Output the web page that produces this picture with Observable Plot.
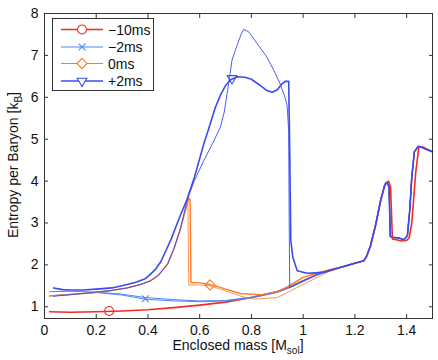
<!DOCTYPE html>
<html><head><meta charset="utf-8">
<script src="https://cdn.jsdelivr.net/npm/d3@7"></script>
<script src="https://cdn.jsdelivr.net/npm/@observablehq/plot@0.6"></script>
<style>
body{margin:0;background:#fff;}
#chart{position:relative;width:438px;height:360px;}
</style>
</head><body><div id="chart"></div>
<script>
// ---- data ----
const seriesNames = ["\u221210ms", "\u22122ms", "0ms", "+2ms"];
const seriesColors = ["#f52a22", "#4f86f5", "#fa7a2c", "#3a4cf0"];
const xTicks = [0, 0.2, 0.4, 0.6, 0.8, 1, 1.2, 1.4];
const yTicks = [1, 2, 3, 4, 5, 6, 7, 8];

// -10ms
const redMass = [0.02,0.1,0.2,0.3,0.4,0.5,0.6,0.7,0.8,0.9,0.95,1.0,1.05,1.1,1.15,1.2,1.235,1.245,1.26,1.28,1.3,1.318,1.33,1.338,1.345,1.36,1.38,1.4,1.41,1.42,1.435,1.447,1.46,1.48,1.5];
const redS    = [0.88,0.87,0.88,0.9,0.93,0.98,1.04,1.11,1.22,1.36,1.48,1.62,1.76,1.87,1.95,2.04,2.1,2.2,2.45,2.95,3.55,3.95,4.0,3.85,2.62,2.6,2.57,2.58,2.65,3.0,4.2,4.8,4.82,4.76,4.7];
// -2ms (two models)
const ltAMass = [0.02,0.1,0.2,0.3,0.39,0.5,0.6,0.7,0.8,0.9,0.95,1.0,1.05,1.1,1.15,1.2,1.235,1.245,1.26,1.28,1.3,1.315,1.325,1.332,1.337,1.345,1.37,1.39,1.403,1.412,1.42,1.43,1.445,1.46,1.48,1.5];
const ltAS    = [1.36,1.37,1.35,1.3,1.22,1.17,1.14,1.15,1.23,1.37,1.49,1.62,1.76,1.87,1.95,2.04,2.1,2.2,2.45,2.95,3.55,3.9,3.97,3.85,2.68,2.66,2.64,2.6,2.7,3.3,4.1,4.7,4.83,4.8,4.75,4.7];
const ltBMass = [0.02,0.1,0.2,0.3,0.39,0.5,0.6,0.7,0.8,0.9,0.95,1.0,1.05,1.1,1.15,1.2,1.235,1.245,1.26,1.28,1.3,1.315,1.325,1.332,1.337,1.345,1.37,1.39,1.403,1.412,1.42,1.43,1.445,1.46,1.48,1.5];
const ltBS    = [1.26,1.3,1.34,1.28,1.18,1.14,1.12,1.14,1.21,1.34,1.46,1.6,1.75,1.86,1.95,2.04,2.1,2.2,2.45,2.95,3.55,3.9,3.97,3.85,2.68,2.66,2.64,2.6,2.7,3.3,4.1,4.7,4.83,4.8,4.75,4.7];
// 0ms (two models)
const orAMass = [0.02,0.1,0.19,0.26,0.32,0.37,0.41,0.44,0.476,0.5,0.525,0.545,0.558,0.563,0.566,0.6,0.64,0.67,0.7,0.76,0.84,0.9,0.94,1.0,1.05,1.1,1.15,1.2,1.235,1.245,1.26,1.28,1.3,1.315,1.325,1.332,1.337,1.345,1.37,1.39,1.403,1.412,1.42,1.43,1.445,1.46,1.48,1.5];
const orAS    = [1.26,1.29,1.34,1.39,1.45,1.53,1.62,1.75,2.02,2.38,2.85,3.3,3.6,3.55,1.58,1.57,1.53,1.48,1.42,1.31,1.29,1.36,1.48,1.7,1.8,1.88,1.95,2.04,2.1,2.2,2.45,2.95,3.55,3.9,3.97,3.85,2.68,2.66,2.64,2.6,2.7,3.3,4.1,4.7,4.83,4.8,4.75,4.7];
const orBMass = [0.02,0.1,0.19,0.26,0.32,0.37,0.41,0.44,0.476,0.5,0.525,0.545,0.554,0.558,0.6,0.64,0.7,0.76,0.81,0.9,0.977,1.054,1.1,1.15,1.2,1.235,1.245,1.26,1.28,1.3,1.315,1.325,1.332,1.337,1.345,1.37,1.39,1.403,1.412,1.42,1.43,1.445,1.46,1.48,1.5];
const orBS    = [1.26,1.29,1.34,1.39,1.45,1.53,1.62,1.75,2.02,2.38,2.85,3.3,3.55,1.52,1.52,1.5,1.38,1.25,1.18,1.22,1.46,1.7,1.84,1.95,2.04,2.1,2.2,2.45,2.95,3.55,3.9,3.97,3.85,2.68,2.66,2.64,2.6,2.7,3.3,4.1,4.7,4.83,4.8,4.75,4.7];
// +2ms (two models)
const blAMass = [0.035,0.07,0.1,0.15,0.2,0.26,0.3,0.35,0.39,0.41,0.43,0.45,0.47,0.49,0.52,0.55,0.58,0.616,0.64,0.66,0.68,0.7,0.72,0.745,0.775,0.8,0.83,0.86,0.88,0.9,0.915,0.93,0.944,0.948,0.952,0.96,0.977,1.015,1.08,1.15,1.2,1.235,1.245,1.26,1.28,1.3,1.315,1.325,1.332,1.337,1.345,1.37,1.39,1.403,1.412,1.42,1.43,1.445,1.46,1.48,1.5];
const blAS    = [1.45,1.41,1.4,1.4,1.42,1.45,1.5,1.58,1.67,1.78,1.9,2.08,2.35,2.62,3.1,3.55,4.1,4.89,5.35,5.75,6.05,6.28,6.42,6.49,6.48,6.43,6.3,6.16,6.12,6.18,6.3,6.38,6.38,4.7,2.6,2.18,1.86,1.8,1.82,1.95,2.04,2.1,2.2,2.45,2.95,3.55,3.9,3.97,3.85,2.68,2.66,2.64,2.6,2.7,3.3,4.1,4.7,4.83,4.8,4.75,4.7];
const blBMass = [0.035,0.1,0.19,0.26,0.32,0.37,0.41,0.44,0.476,0.5,0.525,0.551,0.58,0.616,0.65,0.68,0.695,0.706,0.716,0.725,0.745,0.76,0.77,0.79,0.82,0.86,0.89,0.91,0.93,0.938,0.944,0.946,0.948,1.0,1.05,1.1,1.15,1.2,1.235,1.245,1.26,1.28,1.3,1.315,1.325,1.332,1.337,1.345,1.37,1.39,1.403,1.412,1.42,1.43,1.445,1.46,1.48,1.5];
const blBS    = [1.25,1.29,1.34,1.39,1.45,1.53,1.62,1.75,2.02,2.38,2.85,3.54,4.02,4.49,4.9,5.29,5.65,6.09,6.5,6.89,7.25,7.5,7.62,7.56,7.3,6.96,6.6,6.33,6.0,5.8,5.2,3.0,1.46,1.62,1.76,1.87,1.95,2.04,2.1,2.2,2.45,2.95,3.55,3.9,3.97,3.85,2.68,2.66,2.64,2.6,2.7,3.3,4.1,4.7,4.83,4.8,4.75,4.7];

// markers, one per series
const markerMass = [0.25, 0.39, 0.64, 0.725];
const markerS = [0.9, 1.19, 1.52, 6.45];
const markerSymbols = ["circle", "times", "diamond2", "triangle2"];
const markerRotate = [0, 0, 0, 180];
const markerR = [4.5, 3.2, 4.6, 4.6];

// ---- build ----
const lineDefs = [
  {series: 0, mass: redMass, s: redS, w: 1.6},
  {series: 1, mass: ltAMass, s: ltAS, w: 1.0},
  {series: 1, mass: ltBMass, s: ltBS, w: 1.0},
  {series: 2, mass: orAMass, s: orAS, w: 1.4},
  {series: 2, mass: orBMass, s: orBS, w: 0.8},
  {series: 3, mass: blAMass, s: blAS, w: 1.6},
  {series: 3, mass: blBMass, s: blBS, w: 0.9},
];
const lineMarks = lineDefs.map(L => Plot.line(
  L.mass.map((m, j) => ({mass: m, s: L.s[j]})),
  {x: "mass", y: "s", stroke: seriesColors[L.series], strokeWidth: L.w, strokeLinejoin: "round"}
));
const markerRows = markerMass.map((m, i) => ({mass: m, s: markerS[i], i}));
const markerMarks = markerRows.map(d => Plot.dot([d], {
  x: "mass", y: "s", symbol: () => markerSymbols[d.i], r: markerR[d.i],
  rotate: markerRotate[d.i], stroke: seriesColors[d.i], fill: "none", strokeWidth: 1.1
}));

const fmt = d => String(+d.toFixed(1));
const plot = Plot.plot({
  width: 438, height: 360,
  marginLeft: 44, marginRight: 6, marginTop: 13, marginBottom: 42,
  style: {fontFamily: "'Liberation Sans', Arial, sans-serif", fontSize: "14px", color: "#222", background: "white"},
  x: {domain: [0, 1.5]},
  y: {domain: [0.72, 8]},
  marks: [
    ...lineMarks,
    ...markerMarks,
    Plot.axisX({anchor: "bottom", ticks: xTicks, tickSize: 0, tickPadding: 7, tickFormat: fmt, label: null, fill: "#111"}),
    Plot.axisY({anchor: "left", ticks: yTicks, tickSize: 0, tickPadding: 6, tickFormat: fmt, label: null, fill: "#111"}),
    Plot.axisX({anchor: "bottom", ticks: xTicks, tickSize: 4, dy: -4, text: null, label: null, stroke: "#333"}),
    Plot.axisX({anchor: "top", ticks: xTicks, tickSize: 4, dy: 4, text: null, label: null, stroke: "#333"}),
    Plot.axisY({anchor: "left", ticks: yTicks, tickSize: 4, dx: 4, text: null, label: null, stroke: "#333"}),
    Plot.axisY({anchor: "right", ticks: yTicks, tickSize: 4, dx: -4, text: null, label: null, stroke: "#333"}),
    Plot.frame({stroke: "#333"})
  ]
});
document.getElementById("chart").appendChild(plot);

// axis titles with subscripts
const svg = d3.select(plot);
const font = "'Liberation Sans', Arial, sans-serif";
const xl = svg.append("text").attr("x", 238).attr("y", 350).attr("text-anchor", "middle")
  .attr("font-family", font).attr("font-size", 14).attr("fill", "#111");
xl.append("tspan").text("Enclosed mass [M");
xl.append("tspan").attr("font-size", 10).attr("dy", 4).text("sol");
xl.append("tspan").attr("dy", -4).text("]");
const yl = svg.append("text").attr("transform", "translate(18,165) rotate(-90)").attr("text-anchor", "middle")
  .attr("font-family", font).attr("font-size", 14).attr("fill", "#111");
yl.append("tspan").text("Entropy per Baryon [k");
yl.append("tspan").attr("font-size", 10).attr("dy", 4).text("B");
yl.append("tspan").attr("dy", -4).text("]");

// legend inside the plot
const symbolTypes = {circle: d3.symbolCircle, times: d3.symbolTimes, diamond2: d3.symbolDiamond2, triangle2: d3.symbolTriangle2};
const lg = svg.append("g");
lg.append("rect").attr("x", 52.5).attr("y", 18.5).attr("width", 101).attr("height", 72)
  .attr("fill", "white").attr("stroke", "#333");
const rowY = [29.5, 47, 63.5, 81];
const lw = [1.4, 1.0, 1.2, 1.4];
seriesNames.forEach((name, i) => {
  const y = rowY[i];
  lg.append("line").attr("x1", 61).attr("x2", 103).attr("y1", y).attr("y2", y)
    .attr("stroke", seriesColors[i]).attr("stroke-width", lw[i]);
  lg.append("path").attr("transform", `translate(82,${y}) rotate(${markerRotate[i]})`)
    .attr("d", d3.symbol(symbolTypes[markerSymbols[i]], Math.PI * markerR[i] * markerR[i])())
    .attr("fill", "white").attr("stroke", seriesColors[i]).attr("stroke-width", 1.1);
  lg.append("text").attr("x", 108).attr("y", y + 5).attr("text-anchor", "start")
    .attr("font-family", font).attr("font-size", 14).attr("fill", "#111").text(name);
});
</script>
</body></html>
